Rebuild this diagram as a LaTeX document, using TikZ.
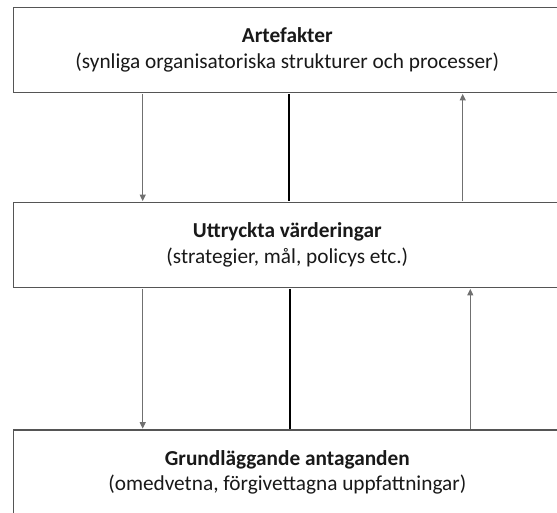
\documentclass[tikz,border=0pt]{standalone}
\usepackage{fontspec}
\setmainfont{Carlito}
\usetikzlibrary{arrows.meta}
\definecolor{boxgray}{HTML}{555555}
\definecolor{arrgray}{HTML}{707070}
\tikzset{
  layerbox/.style={draw=boxgray, line width=1.6pt, fill=white, minimum width=548pt,
    minimum height=85pt, inner sep=0pt, align=center,
    font=\fontsize{21.3}{25.5}\selectfont, text=black!90},
  thinarrow/.style={draw=arrgray, line width=0.9pt, -{Triangle[length=6.5pt,width=6pt]}, shorten >=0.6pt, shorten <=0.6pt},
  thickline/.style={draw=black, line width=2.6pt, shorten >=0.6pt, shorten <=0.6pt}
}
\begin{document}
\begin{tikzpicture}[x=1pt,y=-1pt]
\useasboundingbox (0,0) rectangle (557,512);
\fill[white] (0,0) rectangle (557,512);
\clip (0,0) rectangle (557,512);
\node[layerbox] (art) at (287.3,50) {{\bfseries Artefakter}\\(synliga organisatoriska strukturer och processer)};
\node[layerbox] (val) at (287.3,245) {{\bfseries Uttryckta värderingar}\\(strategier, mål, policys etc.)};
\node[layerbox] (ant) at (287.3,472.5) {{\bfseries Grundläggande antaganden}\\(omedvetna, förgivettagna uppfattningar)};
\coordinate (xl) at (142.7,0);
\coordinate (xm1) at (289,0);
\coordinate (xm2) at (290,0);
\coordinate (xr1) at (462.7,0);
\coordinate (xr2) at (470.3,0);
\draw[thinarrow] (art.south -| xl) -- (val.north -| xl);
\draw[thickline] (art.south -| xm1) -- (val.north -| xm1);
\draw[thinarrow] (val.north -| xr1) -- (art.south -| xr1);
\draw[thinarrow] (val.south -| xl) -- (ant.north -| xl);
\draw[thickline] (val.south -| xm2) -- (ant.north -| xm2);
\draw[thinarrow] (ant.north -| xr2) -- (val.south -| xr2);
\end{tikzpicture}
\end{document}
